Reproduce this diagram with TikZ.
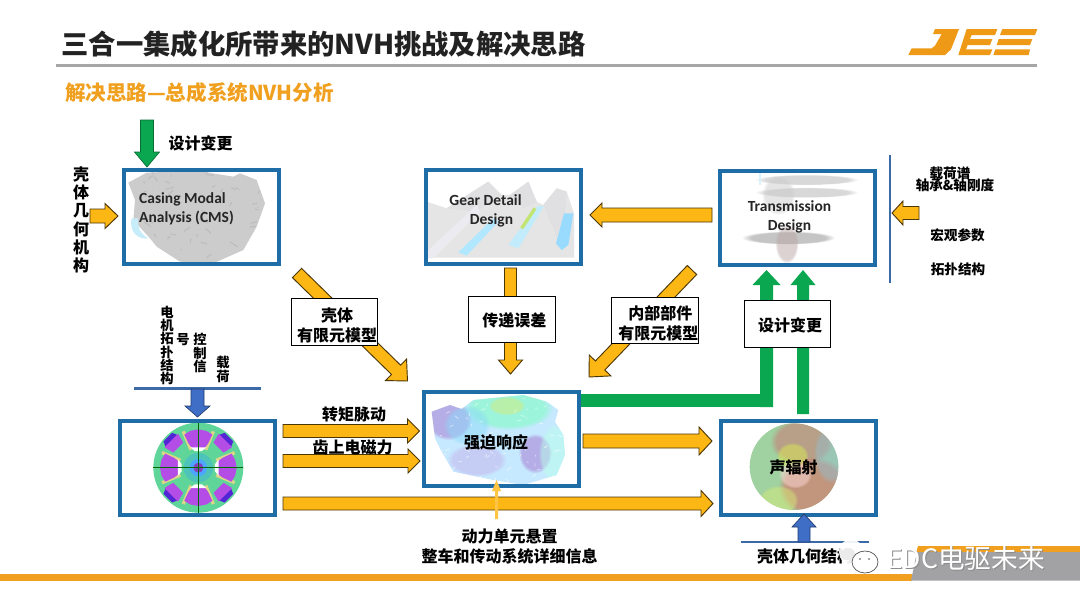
\documentclass[tikz,border=0pt]{standalone}
\usepackage{fontspec}
\setmainfont{Noto Sans CJK SC}
\newfontfamily\latinfont{Carlito}
\usetikzlibrary{calc}
\usetikzlibrary{fadings}
\definecolor{boxblue}{HTML}{1F6DA6}
\definecolor{lineblue}{HTML}{3C69A8}
\definecolor{arrowblue}{HTML}{3F6EC6}
\definecolor{arrowyellow}{HTML}{FDB714}
\definecolor{arrowgreen}{HTML}{0BA750}
\definecolor{logoorange}{HTML}{EE9A17}
\definecolor{barorange}{HTML}{F0A01E}
\definecolor{bargray}{HTML}{A2A2A4}
\definecolor{titleink}{HTML}{222222}
\definecolor{polepurple}{HTML}{B44CE6}
\definecolor{rotorgreen}{HTML}{5FD59A}
\newcommand{\shadowtext}[1]{\rlap{\kern.8pt\raisebox{-.8pt}{\color{black!45}#1}}#1}
\newcommand{\softblob}[5]{\fill [#1,fill opacity=.5,path fading=circle with fuzzy edge 20 percent] (#2,#3) ellipse [x radius=#4,y radius=#5];}
\tikzset{
	blockarrow/.style n args={3}{to path={
		($(\tikztostart)!#1*0.75pt!90:(\tikztotarget)$)
		-- ($(\tikztotarget)!#3*0.75pt!(\tikztostart)!#1*0.75pt!-90:(\tikztostart)$)
		-- ($(\tikztotarget)!#3*0.75pt!(\tikztostart)!#2*0.75pt!-90:(\tikztostart)$)
		-- (\tikztotarget)
		-- ($(\tikztotarget)!#3*0.75pt!(\tikztostart)!#2*0.75pt!90:(\tikztostart)$)
		-- ($(\tikztotarget)!#3*0.75pt!(\tikztostart)!#1*0.75pt!90:(\tikztostart)$)
		-- ($(\tikztostart)!#1*0.75pt!-90:(\tikztotarget)$) -- cycle}},
	yellowarrow/.style={fill=arrowyellow,draw=black!70!arrowyellow,line width=.7pt},
	greenarrow/.style={fill=arrowgreen,draw=black!35!arrowgreen,line width=.5pt},
	bluearrow/.style={fill=arrowblue,draw=black!45!arrowblue,line width=.5pt},
	modelbox/.style={draw=boxblue,line width=3pt,minimum width=116.25pt,minimum height=70.5pt,inner sep=0pt},
	tagbox/.style={draw=black,fill=white,line width=.9pt,minimum width=65pt,minimum height=35pt,inner sep=0pt,align=center,font=\fontsize{12}{15}\selectfont\bfseries},
	labeltext/.style={inner sep=0pt,align=center,font=\fontsize{12}{15}\selectfont\bfseries},
	sidetext/.style={inner sep=0pt,font=\fontsize{10.2}{12}\selectfont\bfseries},
	casetext/.style={inner sep=0pt,text=black!85,font=\fontsize{11.6}{14.2}\selectfont\latinfont\bfseries},
	stacktext/.style={inner sep=0pt,align=center,font=\fontsize{10}{9.9}\selectfont\bfseries}
}
\begin{document}
\begin{tikzpicture}[x=0.75pt,y=-0.75pt]
	\useasboundingbox (0,0) rectangle (1080,607);
	\fill [white] (0,0) rectangle (1080,607);

	\node (title) at (323.5,44) [inner sep=0pt,text=titleink,font=\fontsize{20.5}{24}\selectfont\bfseries] {三合一集成化所带来的NVH挑战及解决思路};
	\draw [black!35,line width=1.6pt] (56,65.5)--(1037,65.5);
	\node (subtitle) at (199.5,93) [inner sep=0pt,text=barorange,font=\fontsize{15.4}{18}\selectfont\bfseries] {解决思路—总成系统NVH分析};

	\begin{scope}[shift={(890,15)},x=0.25pt,y=-0.25pt]
		\fill [logoorange] (135,42)--(207,42)--(183,103)--(165,120)--(55,120)--(65,100)--(125,100)--(135,92)--(155,57)--(129,57)--cycle;
		\fill [logoorange] (230,42)--(322,42)--(315,60)--(245,60)--(240,72)--(307,72)--(300,90)--(233,90)--(228,103)--(307,103)--(300,120)--(205,120)--cycle;
		\fill [logoorange] (337,42)--(442,42)--(435,60)--(330,60)--cycle;
		\fill [logoorange] (326,72)--(427,72)--(420,90)--(320,90)--cycle;
		\fill [logoorange] (316,103)--(420,103)--(416,120)--(310,120)--cycle;
	\end{scope}

	\fill [barorange] (0,574)--(912,574)--(912,580.5)--(0,580.5)--cycle;
	\fill [barorange] (918,546)--(1080,546)--(1080,553)--(916,553)--cycle;
	\fill [bargray] (917,552)--(1080,552)--(1080,580.5)--(911,580.5)--cycle;

	% casing
	\begin{scope}[x=0.25pt,y=-0.25pt]
		\begin{scope}
			\clip (385,548)--(440,518)--(590,512)--(700,530)--(720,520)--(770,540)--(795,610)--(770,680)--(730,750)--(640,790)--(540,785)--(470,740)--(450,715)--(400,660)--(405,600)--cycle;
			\fill [black!20] (380,505) rectangle (800,795);
			\pgfmathsetseed{11}
			\foreach \i in {1,...,70}
				\draw [black!30,line width=.8pt,opacity=.6] ({380+rnd*420},{505+rnd*290}) -- ++({rnd*50-25},{rnd*30-15});
		\end{scope}
		\fill [cyan!22] (395,655) .. controls (385,700) and (420,720) .. (445,715) .. controls (420,700) and (410,680) .. (415,655) -- cycle;
	\end{scope}

	% gear
	\begin{scope}[shift={(420,165)},x=0.25pt,y=-0.25pt]
		\fill [black!10] (20,110)--(80,130)--(205,50)--(245,90)--(270,90)--(325,50)--(350,110)--(370,120)--(410,70)--(440,80)--(462,145)--(462,278)--(20,278)--cycle;
		\fill [blue!10!black!12] (80,130)--(205,50)--(245,90)--(170,140)--cycle;
		\fill [blue!10!black!12] (270,90)--(325,50)--(350,110)--(310,130)--cycle;
		\fill [blue!10!black!12] (370,120)--(410,70)--(440,80)--(435,140)--(410,215)--cycle;
		\fill [blue!30!black!8!white] (20,260)--(170,120)--(180,140)--(40,280)--(20,280)--cycle;
		\fill [blue!30!cyan!30] (115,262)--(220,160)--(235,170)--(140,272)--cycle;
		\fill [white!40!cyan!40] (265,240)--(350,125)--(372,122)--(295,250)--cycle;
		\draw [yellow!60!green!60,line width=2.5pt] (305,190)--(345,130);
		\fill [blue!35!cyan!40] (432,145)--(460,145)--(445,240)--(425,255)--(408,235)--cycle;
	\end{scope}

	% transmission
	\begin{scope}[shift={(715,165)},x=0.25pt,y=-0.25pt]
		\softblob{black!30}{275}{44}{155}{16}
		\softblob{black!30}{275}{82}{155}{16}
		\softblob{black!20}{190}{90}{50}{60}
		\softblob{black!45}{220}{218}{140}{20}
		\softblob{red!25!black!35}{215}{235}{35}{60}
		\draw [cyan!15,line width=1pt] (135,12)--(135,60);
	\end{scope}

	% motor
	\begin{scope}[shift={(130,415)},x=0.25pt,y=-0.25pt]
		\fill [rotorgreen] (205,158) circle [radius=135];
		\begin{scope}[shift={(205,158)}]
			\foreach \a in {22.5,67.5,...,337.5}
				\draw [yellow!55!gray!70,line width=2.5pt] (\a:58)--(\a:118);
			\foreach \a in {45,135,225,315} {
				\fill [polepurple] (\a-14:118)--(\a:120)--(\a+14:118)--(\a+14:88)--(\a-14:88)--cycle;
				\fill [blue!60!violet!85] (\a-12:118)--(\a+12:118)--(\a+8:131)--(\a-8:131)--cycle;
			}
			\foreach \a in {0,90,180,270} {
				\fill [polepurple] (\a-23:108)--(\a-12:113)--(\a:115)--(\a+12:113)--(\a+23:108)--(\a+22:78)--(\a+18:62)--(\a-18:62)--(\a-22:78)--cycle;
				\fill [white] (\a-22:66)--(\a+22:66)--(\a+12:51)--(\a-12:51)--cycle;
			}
			\fill [cyan!55!green!70] (0,0) circle [radius=44];
			\fill [blue!50!cyan!70] (0,0) circle [radius=26];
			\fill [violet!70!blue!75] (0,0) circle [radius=15];
			\draw [green!40!black,line width=.4pt] (-135,0)--(135,0) (0,-135)--(0,135);
		\end{scope}
	\end{scope}

	% forced response
	\begin{scope}[shift={(420,385)},x=0.25pt,y=-0.25pt]
		\begin{scope}
			\clip (35,80)--(90,60)--(125,72)--(160,45)--(310,30)--(380,50)--(415,75)--(405,110)--(430,150)--(435,210)--(410,270)--(310,300)--(220,285)--(100,260)--(65,200)--(45,160)--cycle;
			\fill [blue!40!cyan!22] (30,25) rectangle (440,305);
			\softblob{green!50!cyan!55}{265}{70}{135}{65}
			\softblob{yellow!70!green!55}{260}{62}{55}{28}
			\softblob{violet!70!blue!55}{85}{105}{70}{60}
			\softblob{violet!70!blue!55}{345}{205}{50}{60}
			\softblob{green!30!cyan!28}{405}{205}{50}{90}
			\softblob{cyan!45}{140}{120}{70}{60}
			\softblob{violet!50!blue!30}{170}{225}{90}{50}
			\pgfmathsetseed{5}
			\foreach \i in {1,...,80}
				\draw [white,line width=.6pt,opacity=.5] ({40+rnd*390},{30+rnd*270}) -- ++({rnd*30-15},{rnd*20-10});
		\end{scope}
	\end{scope}

	% sound
	\begin{scope}[shift={(715,415)},x=0.25pt,y=-0.25pt]
		\begin{scope}
			\clip (237,155) ellipse [x radius=133,y radius=130];
			\fill [green!35!gray!55] (100,20) rectangle (375,290);
			\softblob{red!50!gray!75}{260}{80}{95}{70}
			\softblob{red!70!gray!75}{295}{215}{105}{90}
			\softblob{cyan!40!gray!70}{350}{115}{55}{90}
			\softblob{yellow!70!green!55}{190}{255}{60}{45}
			\softblob{yellow!80!green!70}{232}{122}{48}{40}
			\softblob{red!15!white}{240}{178}{50}{42}
		\end{scope}
	\end{scope}

	\node (cmsbox) [modelbox] at (201.5,217) {};
	\node (gearbox) [modelbox] at (503.5,217) {};
	\node (transbox) [modelbox] at (797.5,217.5) {};
	\node (motorbox) [modelbox] at (197.5,468) {};
	\node (forcedbox) [modelbox] at (501.5,438.5) {};
	\node (soundbox) [modelbox] at (798,468) {};

	\coordinate (cmschange) at (147,120);
	\coordinate (cmschangetip) at (147,167);
	\coordinate (cmsgeom) at (90,216);
	\coordinate (cmsgeomtip) at (118,216);
	\coordinate (gearstart) at (712,215);
	\coordinate (geartip) at (590,215);
	\coordinate (transin) at (919,213);
	\coordinate (transtip) at (892,213);
	\coordinate (casestart) at (297,273);
	\coordinate (casetip) at (407.5,381);
	\coordinate (partstart) at (692,270);
	\coordinate (parttip) at (589,377);
	\coordinate (errorstart) at (510.5,268);
	\coordinate (errortip) at (510.5,374);
	\coordinate (torquestart) at (283,431);
	\coordinate (torquetip) at (419.5,431);
	\coordinate (forcestart) at (283,461);
	\coordinate (forcetip) at (420,461);
	\coordinate (longstart) at (283,503.5);
	\coordinate (longtip) at (713,503.5);
	\coordinate (radstart) at (583,441);
	\coordinate (radtip) at (712,441);
	\coordinate (mountstart) at (496.5,519);
	\coordinate (mounttip) at (496.5,480);
	\coordinate (motorin) at (197.5,389);
	\coordinate (motortip) at (197.5,417);
	\coordinate (soundin) at (804,542);
	\coordinate (soundtip) at (804,514);
	\coordinate (changecorner) at (766.5,407);
	\coordinate (changetip) at (766.5,270);
	\coordinate (soundup) at (803,414);
	\coordinate (soundchangetip) at (803,270);

	\draw [lineblue,line width=2.2pt] (134,388.5)--(261,388.5);
	\draw [lineblue,line width=2.2pt] (741,542)--(869,542);
	\draw [lineblue,line width=1.8pt] (890,155)--(890,283);

	\draw [greenarrow] (cmschange) [blockarrow={6.5}{12.5}{15}] to (cmschangetip);
	\draw [yellowarrow] (cmsgeom) [blockarrow={7}{12.5}{13}] to (cmsgeomtip);
	\draw [yellowarrow] (gearstart) [blockarrow={7}{12}{12}] to (geartip);
	\draw [yellowarrow] (transin) [blockarrow={6.5}{12}{11}] to (transtip);
	\draw [yellowarrow] (casestart) [blockarrow={6.5}{15}{16}] to (casetip);
	\draw [yellowarrow] (partstart) [blockarrow={6.5}{15}{16}] to (parttip);
	\draw [yellowarrow] (errorstart) [blockarrow={6}{12}{14}] to (errortip);
	\draw [yellowarrow] (torquestart) [blockarrow={6.5}{12}{12}] to (torquetip);
	\draw [yellowarrow] (forcestart) [blockarrow={6.5}{12}{12}] to (forcetip);
	\draw [yellowarrow] (longstart) [blockarrow={6.5}{13}{12}] to (longtip);
	\draw [yellowarrow] (radstart) [blockarrow={7}{14}{13}] to (radtip);
	\fill [arrowyellow!80] (mountstart) [blockarrow={1.5}{4.5}{11}] to (mounttip);
	\draw [bluearrow] (motorin) [blockarrow={6.5}{12.5}{11}] to (motortip);
	\draw [bluearrow] (soundin) [blockarrow={6}{12}{13}] to (soundtip);

	\fill [arrowgreen] (forcedbox.east |- 0,394) rectangle (changecorner);
	\fill [arrowgreen] (changecorner) [blockarrow={6.5}{14}{15}] to (changetip);
	\fill [arrowgreen] (soundup) [blockarrow={6}{12.5}{15}] to (soundchangetip);

	\node (casetag) [tagbox] at (334.5,322) {\rule{0pt}{15pt}\hspace*{4pt}壳体\\\hspace*{4pt}有限元模型};
	\node (errortag) [tagbox] at (512,319.5) {\rule{0pt}{12pt}\hspace*{3.5pt}传递误差};
	\node (parttag) [tagbox,align=right] at (655,320.5) {\rule{0pt}{15pt}内部部件\hspace*{4.5pt}\\\hspace*{5pt}有限元模型};
	\node (changetag) [tagbox] at (787.5,324) {\rule{0pt}{13pt}\hspace*{4pt}设计变更};

	\node (cmschangetext) [labeltext] at (200.5,143) {设计变更};
	\node (cmsgeomtext) [labeltext,font=\fontsize{12}{13.7}\selectfont\bfseries] at (81,220) {壳\\体\\几\\何\\机\\构};
	\node (cmstext) [casetext,align=left] at (186.5,208.5) {Casing Modal\\Analysis (CMS)};
	\node (geartext) [casetext,align=center] at (485.5,211) {Gear Detail\\\hspace*{9pt}Design};
	\node (transtext) [casetext,align=center] at (789.5,216.5) {Transmission\\Design};
	\node (spectext) [sidetext] at (950,173) {载荷谱};
	\node (bearingtext) [sidetext] at (955,185) {轴承\&轴刚度};
	\node (macrotext) [sidetext] at (957.5,235) {宏观参数};
	\node (topotext) [sidetext] at (958,269) {拓扑结构};
	\node (motortopo) [stacktext] at (167,345.5) {电\\机\\拓\\扑\\结\\构};
	\node (signalend) [stacktext] at (183,340) {号};
	\node (signaltext) [stacktext] at (200,353) {控\\制\\信};
	\node (loadtext) [stacktext] at (223,369.5) {载\\荷};
	\node (torquetext) [labeltext] at (354,414) {转矩脉动};
	\node (forcetext) [labeltext] at (352.5,447) {齿上电磁力};
	\node (forcedtext) [labeltext] at (496,442) {强迫响应};
	\node (soundtext) [labeltext] at (793.5,467) {声辐射};
	\node (mounttext) [labeltext,font=\fontsize{12}{14.4}\selectfont\bfseries] at (509.5,546.5) {动力单元悬置\\整车和传动系统详细信息};
	\node (soundgeom) [labeltext] at (805,556) {壳体几何结构};

	\fill [white,opacity=.92] (851,552) ellipse [x radius=12,y radius=13];
	\fill [black!8] (848,554) ellipse [x radius=7,y radius=6];
	\draw [black!70,fill=white,line width=.5pt] (865,562) ellipse [x radius=13,y radius=11];
	\fill [black!70] (860,559) circle [radius=.8] (869,559) circle [radius=.8];
	\node (brand) at (966,559) [inner sep=0pt,text=white,font=\fontsize{20}{24}\selectfont] {\shadowtext{EDC电驱未来}};
\end{tikzpicture}
\end{document}
